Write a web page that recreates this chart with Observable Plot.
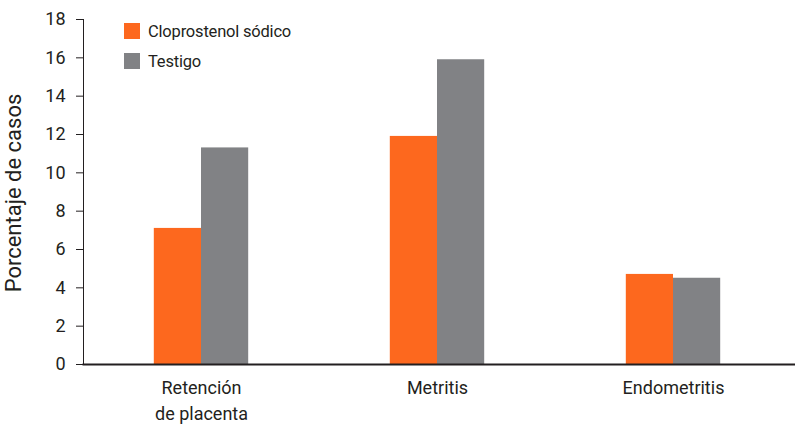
<!DOCTYPE html>
<html><head><meta charset="utf-8">
<script src="https://cdn.jsdelivr.net/npm/d3@7"></script>
<script src="https://cdn.jsdelivr.net/npm/@observablehq/plot@0.6"></script>
<style>
body{margin:0;background:#fff;}
#chart{position:relative;width:795px;height:425px;font-family:Roboto,"Noto Sans",sans-serif;color:#231f20;}
#chart svg{position:absolute;left:0;top:0;}
.legend{position:absolute;left:124px;top:23px;font-size:16.5px;letter-spacing:-0.2px;}
.legend .row{display:flex;align-items:center;height:16px;margin-bottom:14px;white-space:nowrap;}
.legend .sw{width:16px;height:16px;margin-right:8px;flex:none;}
.ytitle{position:absolute;left:13px;top:193px;transform:translate(-50%,-50%) rotate(-90deg);font-size:22px;white-space:nowrap;}
</style></head><body><div id="chart"></div>
<script>
const categories = ["Retención\nde placenta", "Metritis", "Endometritis"];
const series = ["Cloprostenol sódico", "Testigo"];
const cloprostenol = [7.1, 11.9, 4.7];
const testigo = [11.3, 15.9, 4.5];
const colors = ["#fd681e", "#818285"];
const yTicks = [0, 2, 4, 6, 8, 10, 12, 14, 16, 18];
const yTitle = "Porcentaje de casos";

const data = categories.flatMap((c, i) => [
  {cat: c, serie: series[0], value: cloprostenol[i]},
  {cat: c, serie: series[1], value: testigo[i]}
]);

const chart = Plot.plot({
  width: 795, height: 425,
  marginLeft: 83, marginRight: 4, marginTop: 19, marginBottom: 61,
  style: {fontFamily: 'Roboto,"Noto Sans",sans-serif', fontSize: "18px", color: "#231f20", background: "transparent", overflow: "visible"},
  fx: {domain: categories, padding: 0, round: false, label: null},
  x: {domain: series, paddingInner: 0, paddingOuter: 1.5, round: false, axis: null},
  y: {domain: [0, 18], ticks: yTicks, tickSize: 7, tickPadding: 11, line: true, label: null},
  color: {domain: series, range: colors},
  marks: [
    Plot.barY(data, {fx: "cat", x: "serie", y: "value", fill: "serie"}),
    Plot.axisFx({anchor: "bottom", tickSize: 0, tickPadding: 12, label: null, lineHeight: 1.4, fontSize: 18}),
    Plot.frame({anchor: "bottom", facet: "super", stroke: "#231f20", strokeWidth: 2, insetRight: -4})
  ]
});

const root = document.getElementById("chart");
root.appendChild(chart);
const t = document.createElement("div");
t.className = "ytitle";
t.textContent = yTitle;
root.appendChild(t);
const leg = document.createElement("div");
leg.className = "legend";
series.forEach((s, i) => {
  const r = document.createElement("div");
  r.className = "row";
  const sw = document.createElement("span");
  sw.className = "sw";
  sw.style.background = colors[i];
  const lab = document.createElement("span");
  lab.textContent = s;
  r.appendChild(sw); r.appendChild(lab);
  leg.appendChild(r);
});
root.appendChild(leg);
</script></body></html>
